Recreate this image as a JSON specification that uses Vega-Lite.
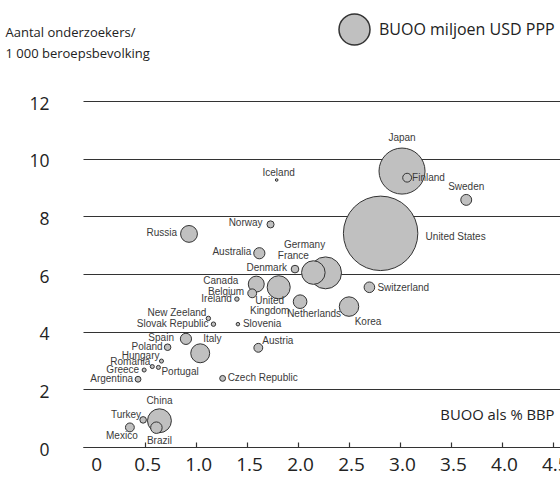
{
  "$schema": "https://vega.github.io/schema/vega-lite/v6.json",
  "width": 477,
  "height": 346,
  "autosize": "none",
  "padding": {"left": 83, "top": 101, "right": 0, "bottom": 32},
  "background": "white",
  "config": {"view": {"stroke": null}, "text": {"font": "Liberation Sans", "fontSize": 10, "color": "#3a3a3a"}},
  "data": {"values": [
    {"land": "United States", "buoo_bbp": 2.81, "onderzoekers": 7.41, "buoo": 340000},
    {"land": "Japan", "buoo_bbp": 3.02, "onderzoekers": 9.57, "buoo": 130000},
    {"land": "Germany", "buoo_bbp": 2.27, "onderzoekers": 6.04, "buoo": 62400},
    {"land": "China", "buoo_bbp": 0.64, "onderzoekers": 0.91, "buoo": 35000},
    {"land": "France", "buoo_bbp": 2.15, "onderzoekers": 6.05, "buoo": 34000},
    {"land": "United Kingdom", "buoo_bbp": 1.81, "onderzoekers": 5.54, "buoo": 32600},
    {"land": "Korea", "buoo_bbp": 2.5, "onderzoekers": 4.87, "buoo": 23300},
    {"land": "Italy", "buoo_bbp": 1.04, "onderzoekers": 3.25, "buoo": 22000},
    {"land": "Russia", "buoo_bbp": 0.93, "onderzoekers": 7.39, "buoo": 17400},
    {"land": "Canada", "buoo_bbp": 1.59, "onderzoekers": 5.65, "buoo": 15600},
    {"land": "Netherlands", "buoo_bbp": 2.02, "onderzoekers": 5.04, "buoo": 11400},
    {"land": "Brazil", "buoo_bbp": 0.61, "onderzoekers": 0.67, "buoo": 8100},
    {"land": "Spain", "buoo_bbp": 0.9, "onderzoekers": 3.75, "buoo": 7650},
    {"land": "Australia", "buoo_bbp": 1.62, "onderzoekers": 6.72, "buoo": 7650},
    {"land": "Sweden", "buoo_bbp": 3.65, "onderzoekers": 8.57, "buoo": 7300},
    {"land": "Switzerland", "buoo_bbp": 2.7, "onderzoekers": 5.54, "buoo": 6900},
    {"land": "Austria", "buoo_bbp": 1.61, "onderzoekers": 3.44, "buoo": 4800},
    {"land": "Belgium", "buoo_bbp": 1.55, "onderzoekers": 5.33, "buoo": 4800},
    {"land": "Mexico", "buoo_bbp": 0.35, "onderzoekers": 0.68, "buoo": 4800},
    {"land": "Finland", "buoo_bbp": 3.07, "onderzoekers": 9.34, "buoo": 4800},
    {"land": "Denmark", "buoo_bbp": 1.97, "onderzoekers": 6.17, "buoo": 3560},
    {"land": "Norway", "buoo_bbp": 1.73, "onderzoekers": 7.72, "buoo": 3080},
    {"land": "Poland", "buoo_bbp": 0.72, "onderzoekers": 3.46, "buoo": 2640},
    {"land": "Turkey", "buoo_bbp": 0.48, "onderzoekers": 0.94, "buoo": 2640},
    {"land": "Argentina", "buoo_bbp": 0.43, "onderzoekers": 2.35, "buoo": 2100},
    {"land": "Czech Republic", "buoo_bbp": 1.26, "onderzoekers": 2.38, "buoo": 2100},
    {"land": "Slovak Republic", "buoo_bbp": 1.17, "onderzoekers": 4.26, "buoo": 1200},
    {"land": "New Zeeland", "buoo_bbp": 1.12, "onderzoekers": 4.46, "buoo": 1200},
    {"land": "Ireland", "buoo_bbp": 1.4, "onderzoekers": 5.13, "buoo": 1200},
    {"land": "Hungary", "buoo_bbp": 0.66, "onderzoekers": 2.98, "buoo": 1000},
    {"land": "Romania", "buoo_bbp": 0.57, "onderzoekers": 2.79, "buoo": 1000},
    {"land": "Portugal", "buoo_bbp": 0.63, "onderzoekers": 2.76, "buoo": 1000},
    {"land": "Greece", "buoo_bbp": 0.49, "onderzoekers": 2.67, "buoo": 1000},
    {"land": "Slovenia", "buoo_bbp": 1.41, "onderzoekers": 4.26, "buoo": 770},
    {"land": "Iceland", "buoo_bbp": 1.79, "onderzoekers": 9.26, "buoo": 430}
  ]},
  "encoding": {
    "x": {"field": "buoo_bbp", "type": "quantitative",
      "scale": {"domain": [-0.11, 4.57], "nice": false, "zero": false},
      "axis": {"values": [0, 0.5, 1, 1.5, 2, 2.5, 3, 3.5, 4, 4.5], "grid": false,
        "labelExpr": "datum.value == 0 ? '0' : format(datum.value, '.1f')",
        "domainColor": "#333", "domainWidth": 1.2, "tickColor": "#333", "tickSize": -5, "tickWidth": 1.2,
        "tickOpacity": {"condition": {"test": "datum.value == 0", "value": 0}, "value": 1},
        "labelFont": "Open Sans", "labelFontSize": 19, "labelColor": "#222", "labelPadding": 13, "labelBaseline": "top", "labelOffset": 2,
        "title": "BUOO als % BBP", "titleFont": "Open Sans", "titleFontSize": 14.8, "titleFontWeight": "normal", "titleColor": "#222",
        "titleX": 471, "titleY": -32, "titleAlign": "right", "titleBaseline": "middle", "titleAnchor": null}},
    "y": {"field": "onderzoekers", "type": "quantitative",
      "scale": {"domain": [0, 12], "nice": false},
      "axis": {"values": [0, 2, 4, 6, 8, 10, 12], "grid": true, "gridColor": "#333", "gridWidth": 1.2,
        "domain": false, "ticks": true, "tickSize": 30, "tickOpacity": 0, "tickColor": "transparent", "labelPadding": 4, "labelAlign": "right", "labelOffset": 3,
        "labelFont": "Open Sans", "labelFontSize": 17.5, "labelColor": "#222",
        "title": ["Aantal onderzoekers/", "1 000 beroepsbevolking"], "titleFont": "Open Sans", "titleFontSize": 13, "titleFontWeight": "normal", "titleColor": "#222",
        "titleAngle": 0, "titleX": -78, "titleY": -65, "titleAlign": "left", "titleBaseline": "alphabetic", "titleLineHeight": 21.5, "titleAnchor": null}}
  },
  "layer": [
    {"mark": {"type": "circle", "filled": false, "strokeWidth": 1, "opacity": 1},
     "encoding": {
       "fill": {"value": "#c0c0c0"},
       "stroke": {"value": "#333"},
       "size": {"field": "buoo", "type": "quantitative", "scale": {"domain": [0, 340000], "range": [0, 5542], "zero": true},
         "legend": {"orient": "none", "legendX": 255, "legendY": -88, "title": null, "values": [59000],
           "labelExpr": "'BUOO miljoen USD PPP'", "labelLimit": 0, "symbolType": "circle", "symbolOpacity": 1,
           "labelFont": "Open Sans", "labelFontSize": 16, "labelColor": "#222", "labelOffset": 8}},
       "order": {"field": "buoo", "type": "quantitative", "sort": "descending"}}},
    {"transform": [{"filter": {"field": "land", "oneOf": ["Ireland", "Slovak Republic", "Argentina", "Greece", "Poland"]}}],
     "mark": {"type": "text", "align": "right", "baseline": "middle", "dx": -5},
     "encoding": {"text": {"field": "land"}}},
    {"transform": [{"filter": {"field": "land", "oneOf": ["Belgium", "Australia", "Denmark", "Norway"]}}],
     "mark": {"type": "text", "align": "right", "baseline": "middle", "dx": -8, "dy": -1},
     "encoding": {"text": {"field": "land"}}},
    {"transform": [{"filter": {"field": "land", "oneOf": ["Russia", "Spain"]}}],
     "mark": {"type": "text", "align": "right", "baseline": "middle", "dx": -12, "dy": -1},
     "encoding": {"text": {"field": "land"}}},
    {"transform": [{"filter": {"field": "land", "oneOf": ["New Zeeland", "Hungary", "Romania", "Turkey"]}}],
     "mark": {"type": "text", "align": "right", "baseline": "middle", "dx": -2, "dy": -5},
     "encoding": {"text": {"field": "land"}}},
    {"transform": [{"filter": {"field": "land", "equal": "Canada"}}],
     "mark": {"type": "text", "align": "right", "baseline": "middle", "dx": -18, "dy": -3},
     "encoding": {"text": {"field": "land"}}},
    {"transform": [{"filter": {"field": "land", "oneOf": ["Finland", "Slovenia", "Czech Republic"]}}],
     "mark": {"type": "text", "align": "left", "baseline": "middle", "dx": 5},
     "encoding": {"text": {"field": "land"}}},
    {"transform": [{"filter": {"field": "land", "equal": "Switzerland"}}],
     "mark": {"type": "text", "align": "left", "baseline": "middle", "dx": 8, "dy": 1},
     "encoding": {"text": {"field": "land"}}},
    {"transform": [{"filter": {"field": "land", "equal": "Austria"}}],
     "mark": {"type": "text", "align": "left", "baseline": "middle", "dx": 4, "dy": -7},
     "encoding": {"text": {"field": "land"}}},
    {"transform": [{"filter": {"field": "land", "equal": "Portugal"}}],
     "mark": {"type": "text", "align": "left", "baseline": "middle", "dx": 3, "dy": 5},
     "encoding": {"text": {"field": "land"}}},
    {"transform": [{"filter": {"field": "land", "equal": "Italy"}}],
     "mark": {"type": "text", "align": "left", "baseline": "middle", "dx": 3, "dy": -14},
     "encoding": {"text": {"field": "land"}}},
    {"transform": [{"filter": {"field": "land", "equal": "United States"}}],
     "mark": {"type": "text", "align": "left", "baseline": "middle", "dx": 45, "dy": 4},
     "encoding": {"text": {"field": "land"}}},
    {"transform": [{"filter": {"field": "land", "equal": "Japan"}}],
     "mark": {"type": "text", "align": "center", "baseline": "middle", "dy": -33},
     "encoding": {"text": {"field": "land"}}},
    {"transform": [{"filter": {"field": "land", "equal": "Sweden"}}],
     "mark": {"type": "text", "align": "center", "baseline": "middle", "dy": -13},
     "encoding": {"text": {"field": "land"}}},
    {"transform": [{"filter": {"field": "land", "equal": "Iceland"}}],
     "mark": {"type": "text", "align": "center", "baseline": "middle", "dx": 2, "dy": -7},
     "encoding": {"text": {"field": "land"}}},
    {"transform": [{"filter": {"field": "land", "equal": "China"}}],
     "mark": {"type": "text", "align": "center", "baseline": "middle", "dy": -20},
     "encoding": {"text": {"field": "land"}}},
    {"transform": [{"filter": {"field": "land", "equal": "Korea"}}],
     "mark": {"type": "text", "align": "center", "baseline": "middle", "dx": 19, "dy": 15},
     "encoding": {"text": {"field": "land"}}},
    {"transform": [{"filter": {"field": "land", "equal": "Netherlands"}}],
     "mark": {"type": "text", "align": "center", "baseline": "middle", "dx": 14, "dy": 12},
     "encoding": {"text": {"field": "land"}}},
    {"transform": [{"filter": {"field": "land", "equal": "Brazil"}}],
     "mark": {"type": "text", "align": "center", "baseline": "middle", "dx": 3, "dy": 13},
     "encoding": {"text": {"field": "land"}}},
    {"transform": [{"filter": {"field": "land", "equal": "Mexico"}}],
     "mark": {"type": "text", "align": "center", "baseline": "middle", "dx": -8, "dy": 9},
     "encoding": {"text": {"field": "land"}}},
    {"transform": [{"filter": {"field": "land", "equal": "France"}}],
     "mark": {"type": "text", "align": "center", "baseline": "middle", "dx": -20, "dy": -17},
     "encoding": {"text": {"field": "land"}}},
    {"transform": [{"filter": {"field": "land", "equal": "Germany"}}],
     "mark": {"type": "text", "align": "center", "baseline": "middle", "dx": -21, "dy": -28},
     "encoding": {"text": {"field": "land"}}},
    {"transform": [{"filter": {"field": "land", "equal": "United Kingdom"}}],
     "mark": {"type": "text", "align": "center", "baseline": "top", "dx": -9, "dy": 9, "lineHeight": 10},
     "encoding": {"text": {"value": ["United", "Kingdom"]}}}
  ]
}
